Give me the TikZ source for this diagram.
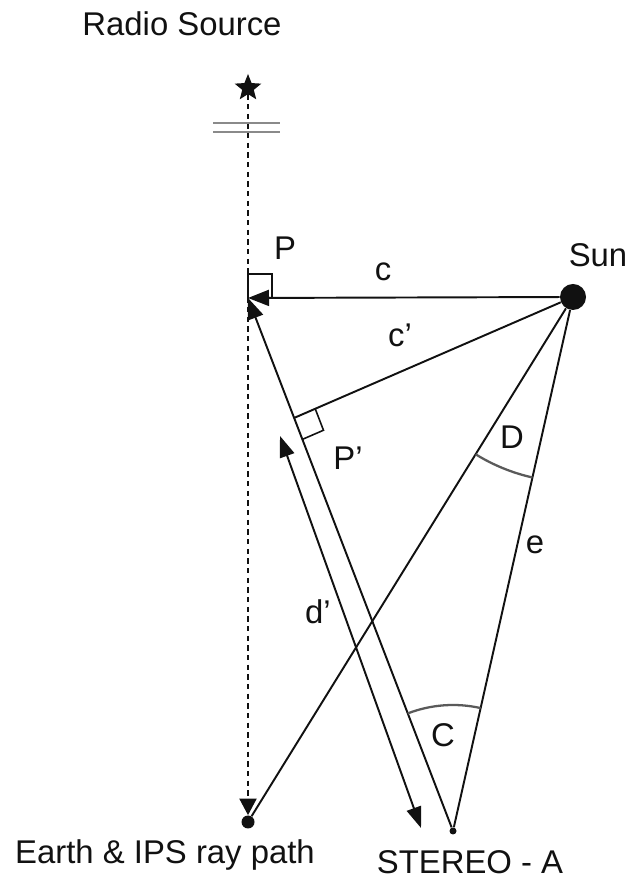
\documentclass[tikz,border=0pt]{standalone}
\usepackage{fontspec}
\setmainfont{Liberation Sans}
\usetikzlibrary{arrows.meta, calc, angles, shapes.geometric}
\definecolor{ink}{HTML}{111111}
\definecolor{arcgrey}{HTML}{5A5A5A}
\definecolor{breakgrey}{HTML}{8A8A8A}
\tikzset{
  font=\fontsize{18.7}{22}\selectfont,
  body/.style={circle, fill=ink, inner sep=0pt},
  lbl/.style={text=ink, inner sep=1pt},
  ray/.style={draw=ink, line width=1.1pt},
  tipped/.style={ray, -{Triangle[length=4.2mm, width=3.2mm]}},
  twotip/.style={ray, {Triangle[length=4.2mm, width=3.0mm]}-{Triangle[length=4.2mm, width=3.0mm]}},
  los/.style={ray, dash pattern=on 3pt off 2.5pt, -{Triangle[length=3.3mm, width=3.4mm]}},
  marker/.style={draw=ink, line width=0.9pt},
  arcmark/.style={draw=arcgrey, line width=1.3pt},
}

\begin{document}
\begin{tikzpicture}
  \useasboundingbox (0,0) rectangle (12.7,17.62);

  % --- bodies (source top, sun right, earth and stereo at the bottom) ---
  \node[star, star points=5, star point ratio=2.3, fill=ink, minimum size=0.56cm, inner sep=0pt] (src) at (4.96,15.86) {};
  \node[body, minimum size=0.52cm] (sun)    at (11.46,11.68) {};
  \node[body, minimum size=0.26cm] (earth)  at (4.96,1.18)   {};
  \node[body, minimum size=0.14cm] (stereo) at (9.06,1.0)    {};
  \coordinate (P)  at (4.96,11.66);
  \coordinate (Pp) at ($(P)!0.225!(stereo)$);

  % --- line of sight from the radio source, with break mark ---
  \draw[los] (src) -- (earth);
  \draw[draw=breakgrey, line width=1.6pt] (4.26,15.16) -- (5.6,15.16);
  \draw[draw=breakgrey, line width=1.6pt] (4.26,14.98) -- (5.6,14.98);

  % --- triangle edges ---
  \draw[tipped] (sun) -- (P);
  \draw[tipped] (stereo) -- (P);
  \draw[ray] (sun) -- (Pp);
  \draw[ray] (sun) -- (earth);
  \draw[ray] (sun) -- (stereo);

  % --- d' double arrow (parallel to stereo -- P) ---
  \coordinate (dtop) at (5.6,8.9);
  \coordinate (dbot) at (8.42,1.06);
  \draw[twotip] (dtop) -- (dbot);

  % --- right angle marks ---
  \draw[marker] (P) -- ++(0,0.48) -- ++(0.48,0) -- ++(0,-0.48);
  \coordinate (qa) at ($(Pp)!0.46cm!(sun)$);
  \coordinate (qb) at ($(Pp)!0.46cm!(stereo)$);
  \draw[marker] (qa) -- ($(qa)+(qb)-(Pp)$) -- (qb);

  % --- angle arcs D and C ---
  \pic[arcmark, angle radius=3.7cm]  {angle=earth--sun--stereo};
  \pic[arcmark, angle radius=2.52cm] {angle=sun--stereo--P};

  % --- labels ---
  \node[lbl] (srclab)    at (3.64,17.14) {Radio Source};
  \node[lbl] (plab)      at (5.7,12.66)  {P};
  \node[lbl] (sunlab)    at (11.96,12.52) {Sun};
  \node[lbl] (clab)      at (7.66,12.18) {c};
  \node[lbl] (cplab)     at (8.0,10.92)  {c'};
  \node[lbl] (pplab)     at (6.96,8.46)  {P'};
  \node[lbl] (dlab)      at (10.24,8.88) {D};
  \node[lbl] (elab)      at (10.7,6.72)  {e};
  \node[lbl] (dplab)     at (6.36,5.38)  {d'};
  \node[lbl] (clab2)     at (8.86,2.92)  {C};
  \node[lbl] (earthlab)  at (3.3,0.52)   {Earth \& IPS ray path};
  \node[lbl] (stereolab) at (9.4,0.38)   {STEREO - A};
\end{tikzpicture}
\end{document}
